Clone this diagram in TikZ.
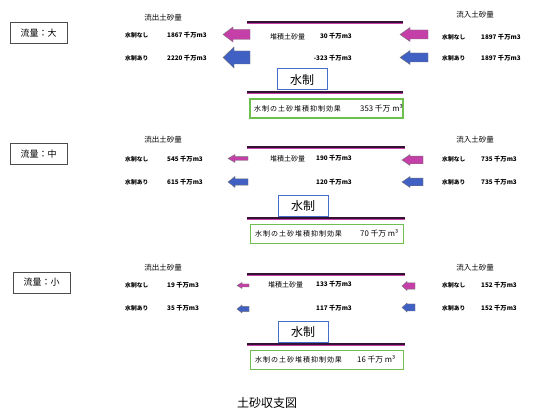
\documentclass[tikz,border=0pt]{standalone}
\usepackage{fontspec}
\newfontfamily\jp{Noto Sans CJK JP}
\newfontfamily\jpsp[LetterSpace=14]{Noto Sans CJK JP}
\definecolor{mag}{RGB}{196,64,168}
\definecolor{blu}{RGB}{64,96,196}
\definecolor{lineblk}{RGB}{50,20,50}
\definecolor{grn}{RGB}{110,190,80}
\definecolor{boxblu}{RGB}{70,110,200}
\newcommand\blkarrow[8]{%
  \draw[#6, draw=black!55, line width=0.4pt] (#1,#3) -- ({#1+#7},{#3-#4}) -- ({#1+#7},{#3-#5}) -- (#2,{#3-#5}) -- (#2,{#3+#5}) -- ({#1+#7},{#3+#5}) -- ({#1+#7},{#3+#4}) -- cycle;
  \coordinate (#8) at ({(#1+#2)/2},#3);}
\tikzset{
  lbl/.style={draw=black!70, line width=0.9pt, minimum width=57pt, minimum height=21pt, inner sep=0pt, font=\jp\fontsize{9}{10}\selectfont},
  head/.style={font=\jp\fontsize{7.5}{8}\selectfont, inner sep=0pt},
  small/.style={font=\jp\bfseries\fontsize{5.8}{6}\selectfont, inner sep=0pt},
  val/.style={font=\jp\bfseries\fontsize{6.3}{7}\selectfont, inner sep=0pt},
  dep/.style={font=\jp\fontsize{7}{7}\selectfont, inner sep=0pt},
  suisei/.style={draw=boxblu, line width=1pt, minimum width=50pt, minimum height=21pt, inner sep=0pt, font=\jp\fontsize{12}{13}\selectfont},
  effect/.style={draw=grn, line width=1.6pt, minimum width=153pt, minimum height=19pt, inner sep=0pt},
  efftext/.style={font=\jpsp\fontsize{7}{8}\selectfont, inner sep=0pt, anchor=west},
  effval/.style={font=\jp\fontsize{7.8}{9}\selectfont, inner sep=0pt, anchor=west},
  baseline/.style={lineblk, line width=1.2pt},
  baseline2/.style={mag, line width=0.8pt}
}
\begin{document}
\begin{tikzpicture}[x=1pt,y=-1pt]
\useasboundingbox (0,0) rectangle (533,411);
\fill[white] (0,0) rectangle (533,411);
% ---------- Panel 1 ----------
\node[lbl] (L1) at (38.5,33) {流量：大};
\node[head] (out1) at (163,18) {流出土砂量};
\node[small, anchor=west] (o1a) at (125,35) {水制なし};
\node[val, anchor=west] (o1av) at (167,35) {1867 千万m3};
\node[small, anchor=west] (o1b) at (125,58) {水制あり};
\node[val, anchor=west] (o1bv) at (167,58) {2220 千万m3};
\blkarrow{223}{250}{34.5}{7.5}{5}{fill=mag}{10}{a1}
\blkarrow{223}{250}{57.5}{10.5}{6.5}{fill=blu}{11}{a2}
\coordinate (t1l) at (247,22); \coordinate (t1r) at (403,22);
\draw[baseline2] ([yshift=-1.2pt]t1l) -- ([yshift=-1.2pt]t1r);
\draw[baseline] (t1l) -- (t1r);
\node[dep, anchor=west] (d1) at (270,37) {堆積土砂量};
\node[val, anchor=east] (d1v) at (352,36) {30 千万m3};
\node[val, anchor=east] (d1w) at (352,58) {-323 千万m3};
\blkarrow{400}{428}{34.5}{7}{4.5}{fill=mag}{10}{a3}
\blkarrow{400}{428}{57.5}{7}{4.5}{fill=blu}{10}{a4}
\node[head] (in1) at (475,15) {流入土砂量};
\node[small, anchor=west] (i1a) at (442,37) {水制なし};
\node[val, anchor=west] (i1av) at (481,37) {1897 千万m3};
\node[small, anchor=west] (i1b) at (442,58) {水制あり};
\node[val, anchor=west] (i1bv) at (481,58) {1897 千万m3};
\node[suisei] (s1) at (302,79.5) {水制};
\coordinate (b1l) at (247,92); \coordinate (b1r) at (403,92);
\draw[baseline2] ([yshift=-1.2pt]b1l) -- ([yshift=-1.2pt]b1r);
\draw[baseline] (b1l) -- (b1r);
\node[effect] (e1) at (326.5,108.5) {};
\node[efftext] (e1t) at (254,108.5) {水制の土砂堆積抑制効果};
\node[effval] (e1v) at (360,108) {353 千万 m³};
% ---------- Panel 2 ----------
\node[lbl] (L2) at (38.5,154) {流量：中};
\node[head] (out2) at (163,140) {流出土砂量};
\node[small, anchor=west] (o2a) at (125,159) {水制なし};
\node[val, anchor=west] (o2av) at (167,159) {545 千万m3};
\node[small, anchor=west] (o2b) at (125,182) {水制あり};
\node[val, anchor=west] (o2bv) at (167,182) {615 千万m3};
\blkarrow{228}{248}{158.5}{4}{1.8}{fill=mag}{7}{a5}
\blkarrow{228}{248}{182}{5.5}{3.2}{fill=blu}{7}{a6}
\coordinate (t2l) at (247,147); \coordinate (t2r) at (405,147);
\draw[baseline2] ([yshift=-1.2pt]t2l) -- ([yshift=-1.2pt]t2r);
\draw[baseline] (t2l) -- (t2r);
\node[dep, anchor=west] (d2) at (270,159) {堆積土砂量};
\node[val, anchor=east] (d2v) at (352,158) {190 千万m3};
\node[val, anchor=east] (d2w) at (352,182) {120 千万m3};
\blkarrow{402}{423}{160}{5.5}{3.8}{fill=mag}{8}{a7}
\blkarrow{402}{423}{182}{5.5}{3.8}{fill=blu}{8}{a8}
\node[head] (in2) at (475,140) {流入土砂量};
\node[small, anchor=west] (i2a) at (442,159) {水制なし};
\node[val, anchor=west] (i2av) at (481,159) {735 千万m3};
\node[small, anchor=west] (i2b) at (442,182) {水制あり};
\node[val, anchor=west] (i2bv) at (481,182) {735 千万m3};
\node[suisei] (s2) at (303,206) {水制};
\coordinate (b2l) at (247,218); \coordinate (b2r) at (405,218);
\draw[baseline2] ([yshift=-1.2pt]b2l) -- ([yshift=-1.2pt]b2r);
\draw[baseline] (b2l) -- (b2r);
\node[effect] (e2) at (327,234) {};
\node[efftext] (e2t) at (255,234) {水制の土砂堆積抑制効果};
\node[effval] (e2v) at (360,233.5) {70 千万 m³};
% ---------- Panel 3 ----------
\node[lbl] (L3) at (41.5,282.5) {流量：小};
\node[head] (out3) at (163,268) {流出土砂量};
\node[small, anchor=west] (o3a) at (125,285) {水制なし};
\node[val, anchor=west] (o3av) at (167,285) {19 千万m3};
\node[small, anchor=west] (o3b) at (125,308) {水制あり};
\node[val, anchor=west] (o3bv) at (167,308) {35 千万m3};
\blkarrow{237}{249}{285.5}{3}{1.5}{fill=mag}{5}{a9}
\blkarrow{237}{249}{309}{4}{2.6}{fill=blu}{5}{a10}
\coordinate (t3l) at (247,274); \coordinate (t3r) at (405,274);
\draw[baseline2] ([yshift=-1.2pt]t3l) -- ([yshift=-1.2pt]t3r);
\draw[baseline] (t3l) -- (t3r);
\node[dep, anchor=west] (d3) at (268,285) {堆積土砂量};
\node[val, anchor=east] (d3v) at (352,284) {133 千万m3};
\node[val, anchor=east] (d3w) at (352,308) {117 千万m3};
\blkarrow{402}{415}{286}{4.5}{3.2}{fill=mag}{5}{a11}
\blkarrow{402}{415}{307.5}{4.5}{3.5}{fill=blu}{5}{a12}
\node[head] (in3) at (475,268) {流入土砂量};
\node[small, anchor=west] (i3a) at (442,285) {水制なし};
\node[val, anchor=west] (i3av) at (481,285) {152 千万m3};
\node[small, anchor=west] (i3b) at (442,308) {水制あり};
\node[val, anchor=west] (i3bv) at (481,308) {152 千万m3};
\node[suisei] (s3) at (303,332) {水制};
\coordinate (b3l) at (247,344); \coordinate (b3r) at (405,344);
\draw[baseline2] ([yshift=-1.2pt]b3l) -- ([yshift=-1.2pt]b3r);
\draw[baseline] (b3l) -- (b3r);
\node[effect] (e3) at (327,360) {};
\node[efftext] (e3t) at (255,360) {水制の土砂堆積抑制効果};
\node[effval] (e3v) at (357,359.5) {16 千万 m³};
% ---------- caption ----------
\node[font=\jp\fontsize{12}{13}\selectfont, inner sep=0pt] (cap) at (267,403) {土砂収支図};
\end{tikzpicture}
\end{document}
